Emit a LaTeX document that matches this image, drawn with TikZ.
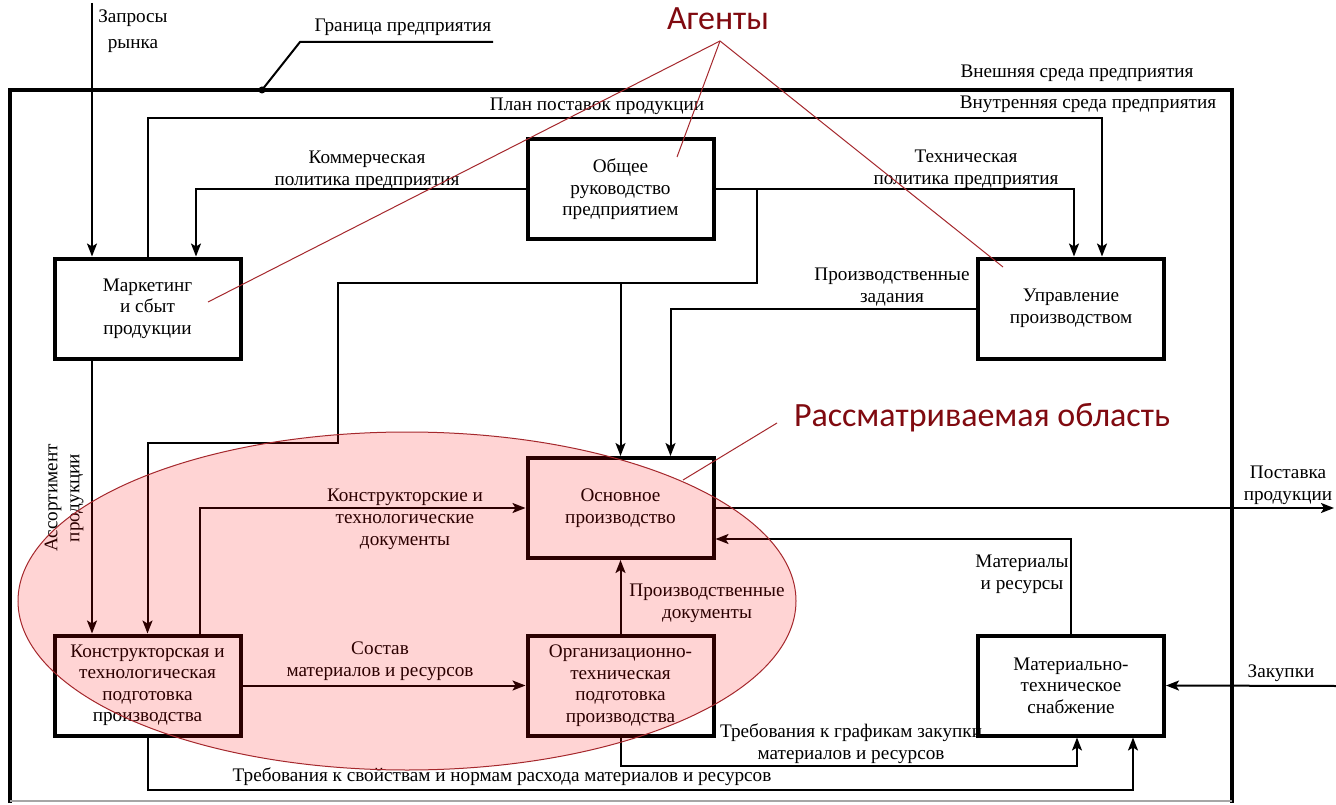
\documentclass[tikz,border=0pt]{standalone}
\usepackage{fontspec}
\setmainfont{Liberation Serif}
\newfontfamily\annotfont{Carlito}
\usetikzlibrary{arrows.meta}
\definecolor{dred}{RGB}{128,10,16}
\definecolor{lred}{RGB}{165,40,45}
\begin{document}
\begin{tikzpicture}[x=1pt,y=-1pt,
  box/.style={draw, line width=4pt, minimum width=186pt, minimum height=100pt, align=center, inner sep=2pt, font=\fontsize{19.2}{21.5}\selectfont},
  lbl/.style={align=center, inner sep=0pt, font=\fontsize{19.2}{22}\selectfont},
  arr/.style={line width=2pt, -{Stealth[length=13pt,width=10pt,inset=3pt]}},
  conn/.style={line width=2pt},
  agline/.style={draw=lred, line width=1pt},
  big/.style={inner sep=0pt, text=dred, font=\annotfont\fontsize{34}{40}\selectfont}]
\useasboundingbox (0,0) rectangle (1336,805);
\fill[white] (0,0) rectangle (1336,805);

% frame
\draw[line width=4pt] (10,803) -- (10,90) -- (1232,90) -- (1232,803);
\draw[black!35, line width=1.5pt] (10,801) -- (1232,801);

% boxes
\node[box] (mkt) at (147.5,308.5) {Маркетинг\\и сбыт\\продукции};
\node[box] (obs) at (620.5,189.5) {Общее\\руководство\\предприятием};
\node[box] (upr) at (1071,308.5) {Управление\\производством};
\node[box] (osn) at (620.5,508) {Основное\\производство};
\node[box] (kon) at (147.5,685.5) {Конструкторская и\\технологическая\\подготовка\\производства};
\node[box] (org) at (620.5,685.5) {Организационно-\\техническая\\подготовка\\производства};
\node[box] (mat) at (1071,685.5) {Материально-\\техническое\\снабжение};

% boundary labels
\coordinate (gdot) at (262,90);
\coordinate (gk) at (300,42);
\coordinate (ge) at (493,42);
\fill (gdot) circle (3.5pt);
\draw[conn] (gdot) -- (gk) -- (ge);
\node[lbl] (gr) at (403,27) {Граница предприятия};
\node[lbl] (ext) at (1077,73) {Внешняя среда предприятия};
\node[lbl] (int) at (1088,104) {Внутренняя среда предприятия};

% connectors
\coordinate (zq) at (92,3);
\draw[arr] (zq) -- (zq |- mkt.north);
\node[lbl] (zqt) at (133,31) {Запросы\\[4pt]рынка};

\draw[arr] (mkt.north) -- ++(0,-138.5) -| ([xshift=31pt]upr.north);
\node[lbl] (plan) at (597,106) {План поставок продукции};

\draw[arr] (obs.west) -| ([xshift=48.5pt]mkt.north);
\node[lbl] (kom) at (367,170) {Коммерческая\\политика предприятия};

\draw[arr] (obs.east) -| ([xshift=3pt]upr.north);
\node[lbl] (teh) at (966,169) {Техническая\\политика предприятия};

\coordinate (j1) at (757,189.5);
\coordinate (j2) at (338,283);
\coordinate (j3) at (338,443);
\draw[arr] (j1) |- (j2) -- (j3) -| (kon.north);
\coordinate (j4) at (osn.north |- j2);
\draw[arr] (j4) -- (osn.north);

\draw[arr] (upr.west) -| ([xshift=50pt]osn.north);
\node[lbl] (pz) at (892,287) {Производственные\\задания};

\draw[arr] ([xshift=-55.5pt]mkt.south) -- ([xshift=-55.5pt]kon.north);
\node[lbl, rotate=90] (ass) at (64,498) {Ассортимент\\продукции};

\draw[arr] ([xshift=52.5pt]kon.north) |- (osn.west);
\node[lbl] (kd) at (405,519) {Конструкторские и\\технологические\\документы};

\draw[arr] (kon.east) -- (org.west);
\node[lbl] (sost) at (380,661) {Состав\\материалов и ресурсов};

\draw[arr] (org.north) -- (osn.south);
\node[lbl] (pd) at (707,603) {Производственные\\документы};

\coordinate (pst) at (1334,508);
\draw[arr] (osn.east) -- (pst);
\node[lbl] (pstt) at (1288,485) {Поставка\\продукции};

\draw[arr] (mat.north) |- ([yshift=-31pt]osn.east);
\node[lbl] (mr) at (1022,574) {Материалы\\и ресурсы};

\coordinate (zk) at (1336,686);
\draw[arr] (zk) -- (mat.east);
\node[lbl] (zkt) at (1281,673) {Закупки};

\draw[arr] (org.south) -- ++(0,28.5) -| ([xshift=6pt]mat.south);
\node[lbl] (tg) at (851,744) {Требования к графикам закупки\\материалов и ресурсов};

\draw[arr] (kon.south) -- ++(0,52.5) -| ([xshift=62pt]mat.south);
\node[lbl] (ts) at (502,777) {Требования к свойствам и нормам расхода материалов и ресурсов};

% considered area
\fill[red, fill opacity=0.17] (407,601) ellipse [x radius=389pt, y radius=169pt];
\draw[lred, line width=1pt] (407,601) ellipse [x radius=389pt, y radius=169pt];

% annotations
\node[big] (ag) at (718,19) {Агенты};
\coordinate (agt) at (720,41);
\coordinate (a1) at (208,302);
\coordinate (a2) at (677,157);
\coordinate (a3) at (1003,267);
\draw[agline] (a1) -- (agt) -- (a3);
\draw[agline] (agt) -- (a2);

\node[big] (ro) at (982,418) {Рассматриваемая область};
\coordinate (r1) at (777,423);
\coordinate (r2) at (683,480);
\draw[agline] (r1) -- (r2);
\end{tikzpicture}
\end{document}
